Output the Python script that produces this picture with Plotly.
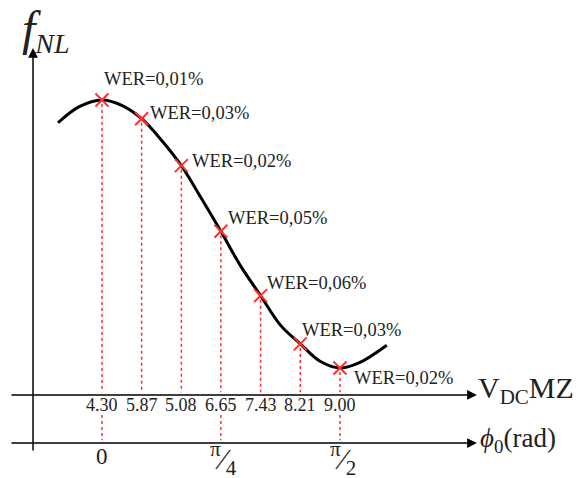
import plotly.graph_objects as go

# ---- data ----
phi_curve = [-0.29, -0.15, 0.0, 0.131, 0.262, 0.393, 0.524, 0.654, 0.785,
             0.916, 1.047, 1.178, 1.309, 1.44, 1.571, 1.70, 1.88]
f_curve = [0.83, 0.95, 1.00, 0.96, 0.86, 0.70, 0.51, 0.27, 0.02,
           -0.24, -0.46, -0.68, -0.82, -0.95, -1.00, -0.96, -0.83]

phi_marks = [0.0, 0.262, 0.524, 0.785, 1.047, 1.309, 1.571]
f_marks = [1.00, 0.86, 0.51, 0.02, -0.46, -0.82, -1.00]
wer_labels = ["WER=0,01%", "WER=0,03%", "WER=0,02%", "WER=0,05%",
              "WER=0,06%", "WER=0,03%", "WER=0,02%"]
vdc_labels = ["4.30", "5.87", "5.08", "6.65", "7.43", "8.21", "9.00"]

phi_tick_vals = [0.0, 0.785, 1.571]
phi_tick_labels = ["0", "<sup>π</sup>⁄<sub>4</sub>", "<sup>π</sup>⁄<sub>2</sub>"]

# ---- layout constants (diagram geometry) ----
wer_shift = [(1, 21), (7, 6), (10, 5), (6, 13), (5, 13), (1, 14), (13, -10)]
Y_VDC = -1.2015
Y_PHI = -1.560
X_FAX = -0.455
X0, X1 = -0.607, 2.475
RED = "rgb(255,50,50)"
FONT = "Liberation Serif"
INK = "#222"

fig = go.Figure()

shapes = []
for p, f in zip(phi_marks, f_marks):
    shapes.append(dict(type="line", x0=p, x1=p, y0=f - 0.03, y1=Y_VDC + 0.02,
                       line=dict(color=RED, width=1.5, dash="dot")))
for p in phi_tick_vals:
    shapes.append(dict(type="line", x0=p, x1=p, y0=-1.35, y1=Y_PHI + 0.02,
                       line=dict(color=RED, width=1.5, dash="dot")))

fig.add_trace(go.Scatter(x=phi_curve, y=f_curve, mode="lines",
                         line=dict(color="black", width=3, shape="spline"),
                         hoverinfo="skip", showlegend=False))
fig.add_trace(go.Scatter(x=phi_marks, y=f_marks, mode="markers",
                         marker=dict(symbol="x-thin", size=13,
                                     line=dict(color=RED, width=2)),
                         hoverinfo="skip", showlegend=False))

ann = []
def arrow(x_tip, y_tip, x_tail, y_tail):
    return dict(x=x_tip, y=y_tip, ax=x_tail, ay=y_tail, xref="x", yref="y",
                axref="x", ayref="y", text="", showarrow=True,
                arrowhead=2, arrowsize=1.3, arrowwidth=1.5, arrowcolor="black")

ann.append(arrow(X_FAX, 1.388, X_FAX, -1.627))
ann.append(arrow(X1, Y_VDC, X0, Y_VDC))
ann.append(arrow(X1, Y_PHI, X0, Y_PHI))

for p, f, t, (dx, dy) in zip(phi_marks, f_marks, wer_labels, wer_shift):
    ann.append(dict(x=p, y=f, text=t, showarrow=False, xanchor="left",
                    yanchor="middle", xshift=dx, yshift=dy, borderpad=0,
                    font=dict(family=FONT, size=18.5, color=INK)))

for p, t in zip(phi_marks, vdc_labels):
    ann.append(dict(x=p, y=-1.276, text=t, showarrow=False, xanchor="center",
                    yanchor="middle", font=dict(family=FONT, size=18, color=INK)))

for p, t in zip(phi_tick_vals, phi_tick_labels):
    big = t != "0"
    ann.append(dict(x=p, y=-1.66 if not big else -1.675, text=t, showarrow=False,
                    xanchor="center", yanchor="middle", borderpad=0,
                    xshift=3 if big else 0,
                    font=dict(family=FONT, size=30 if big else 23, color=INK)))

ann.append(dict(x=X1, y=-1.164, text="V<sub>DC</sub>MZ", showarrow=False,
                xanchor="left", yanchor="middle", xshift=-1,
                font=dict(family=FONT, size=30, color=INK)))
ann.append(dict(x=X1, y=-1.537, text="<i>ϕ</i><sub>0</sub>(rad)", showarrow=False,
                xanchor="left", yanchor="middle", xshift=1,
                font=dict(family=FONT, size=27, color=INK)))
ann.append(dict(x=-0.541, y=1.52,
                text="<span style='font-size:48px'><i>f</i></span><sub><i>NL</i></sub>",
                showarrow=False, xanchor="left", yanchor="middle", yshift=0,
                font=dict(family=FONT, size=40, color=INK)))

fig.update_layout(
    width=579, height=478,
    margin=dict(l=0, r=0, t=0, b=0),
    paper_bgcolor="white", plot_bgcolor="white",
    xaxis=dict(visible=False, range=[-0.673, 3.149], fixedrange=True),
    yaxis=dict(visible=False, range=[-1.821, 1.746], fixedrange=True),
    shapes=shapes, annotations=ann, hovermode=False, showlegend=False,
)

fig.write_html("out.html", config={"displayModeBar": False},
               post_script="document.body.style.margin='0';")
